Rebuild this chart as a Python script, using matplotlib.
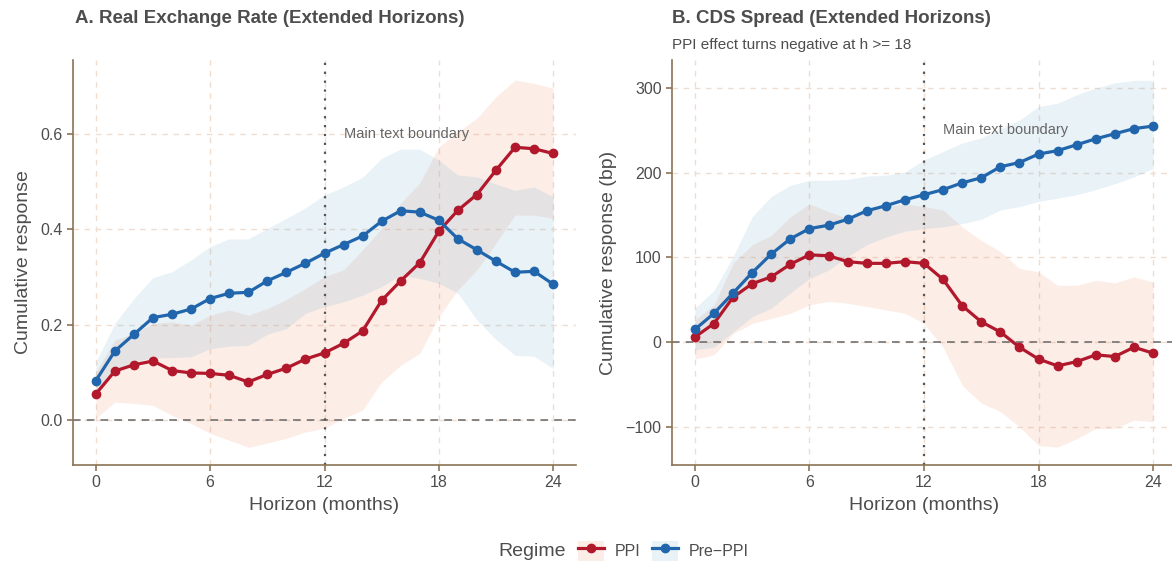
import numpy as np
import matplotlib.pyplot as plt
from matplotlib.lines import Line2D
from matplotlib.patches import Patch

plt.rcParams['font.family'] = ['Liberation Sans', 'DejaVu Sans']

# horizons (months)
h = np.arange(0, 25)

# Panel A: real exchange rate
rer_ppi = [0.055, 0.103, 0.116, 0.124, 0.104, 0.099, 0.098, 0.094, 0.080, 0.096, 0.109, 0.128, 0.141,
           0.161, 0.187, 0.251, 0.292, 0.330, 0.396, 0.440, 0.473, 0.524, 0.572, 0.569, 0.559]
rer_ppi_lo = [0.004, 0.038, 0.035, 0.031, 0.010, -0.007, -0.028, -0.042, -0.057, -0.048, -0.038, -0.025, -0.017,
              0.004, 0.021, 0.080, 0.115, 0.140, 0.217, 0.273, 0.315, 0.371, 0.430, 0.430, 0.423]
rer_ppi_hi = [0.101, 0.168, 0.182, 0.203, 0.206, 0.199, 0.220, 0.231, 0.220, 0.234, 0.253, 0.276, 0.301,
              0.315, 0.357, 0.402, 0.455, 0.497, 0.573, 0.605, 0.633, 0.678, 0.713, 0.706, 0.696]
rer_pre = [0.083, 0.145, 0.180, 0.215, 0.222, 0.233, 0.255, 0.266, 0.268, 0.292, 0.310, 0.329, 0.350,
           0.368, 0.386, 0.417, 0.439, 0.436, 0.419, 0.380, 0.357, 0.333, 0.310, 0.312, 0.285]
rer_pre_lo = [0.056, 0.101, 0.122, 0.131, 0.131, 0.133, 0.150, 0.155, 0.157, 0.180, 0.192, 0.224, 0.238,
              0.248, 0.262, 0.280, 0.304, 0.297, 0.287, 0.266, 0.210, 0.169, 0.136, 0.134, 0.108]
rer_pre_hi = [0.122, 0.203, 0.255, 0.299, 0.311, 0.336, 0.364, 0.380, 0.380, 0.402, 0.423, 0.445, 0.472,
              0.489, 0.509, 0.549, 0.568, 0.568, 0.545, 0.514, 0.510, 0.495, 0.482, 0.489, 0.468]

# Panel B: CDS spread (bp)
cds_ppi = [6, 22, 53, 69, 77, 92, 103, 102, 95, 93, 93, 95, 93,
           74, 43, 24, 12, -6, -20, -28, -23, -15, -17, -6, -13]
cds_ppi_lo = [-20, -15, 10, 22, 28, 34, 44, 48, 46, 42, 38, 34, 22,
              -6, -51, -72, -82, -100, -122, -124, -114, -102, -102, -92, -94]
cds_ppi_hi = [26, 44, 93, 115, 126, 148, 163, 154, 146, 154, 160, 163, 160,
              156, 136, 120, 107, 87, 83, 67, 67, 73, 70, 77, 71]
cds_pre = [15, 34, 58, 82, 104, 122, 134, 138, 145, 155, 161, 168, 174,
           180, 188, 194, 207, 212, 222, 226, 233, 240, 246, 252, 255]
cds_pre_lo = [-9, -6, 12, 30, 40, 58, 75, 85, 101, 115, 124, 131, 134,
              136, 140, 145, 156, 160, 166, 170, 174, 180, 187, 195, 205]
cds_pre_hi = [40, 61, 101, 148, 172, 185, 191, 191, 192, 196, 197, 201, 215,
              225, 235, 241, 252, 262, 278, 282, 292, 300, 306, 309, 309]

RED = '#B2182B'
BLUE = '#2166AC'
RED_FILL = '#EF8A62'
BLUE_FILL = '#67A9CF'
FILL_ALPHA = 0.15
AXIS_COL = '#8B7355'
GRID_COL = '#EFDDD0'
TXT = '#4D4D4D'

fig = plt.figure(figsize=(11.72, 5.69), dpi=100)
axA = fig.add_axes([73 / 1172, 104 / 569, 503 / 1172, 405 / 569])
axB = fig.add_axes([672 / 1172, 104 / 569, 504 / 1172, 405 / 569])


def draw_panel(ax, ppi, ppi_lo, ppi_hi, pre, pre_lo, pre_hi, yticks, ylim, label_y):
    ax.fill_between(h, ppi_lo, ppi_hi, color=RED_FILL, alpha=FILL_ALPHA, lw=0, zorder=1)
    ax.fill_between(h, pre_lo, pre_hi, color=BLUE_FILL, alpha=FILL_ALPHA, lw=0, zorder=1)
    ax.axhline(0, color='#666666', lw=1.1, ls=(0, (5, 4)), zorder=2)
    ax.axvline(12, color='#555555', lw=1.6, ls=(0, (1, 3)), zorder=2)
    ax.text(13, label_y, 'Main text boundary', color='#666666', fontsize=10.5,
            ha='left', va='center', zorder=3)
    ax.plot(h, ppi, color=RED, lw=2.3, marker='o', ms=6, zorder=4)
    ax.plot(h, pre, color=BLUE, lw=2.3, marker='o', ms=6, zorder=4)

    ax.set_xlim(-1.2, 25.2)
    ax.set_ylim(*ylim)
    ax.set_xticks([0, 6, 12, 18, 24])
    ax.set_yticks(yticks)
    ax.grid(True, color=GRID_COL, ls=(0, (4, 4)), lw=1.0, zorder=0)
    ax.set_axisbelow(True)
    for s in ['top', 'right']:
        ax.spines[s].set_visible(False)
    for s in ['left', 'bottom']:
        ax.spines[s].set_color(AXIS_COL)
        ax.spines[s].set_linewidth(1.2)
    ax.tick_params(colors=AXIS_COL, length=4, width=1.2, labelsize=11.5, labelcolor=TXT)
    ax.set_xlabel('Horizon (months)', fontsize=14, color=TXT, labelpad=5)


draw_panel(axA, rer_ppi, rer_ppi_lo, rer_ppi_hi, rer_pre, rer_pre_lo, rer_pre_hi,
           [0.0, 0.2, 0.4, 0.6], (-0.094, 0.755), 0.6)
axA.set_yticklabels(['0.0', '0.2', '0.4', '0.6'])
axA.set_ylabel('Cumulative response', fontsize=14, color=TXT, labelpad=6)

draw_panel(axB, cds_ppi, cds_ppi_lo, cds_ppi_hi, cds_pre, cds_pre_lo, cds_pre_hi,
           [-100, 0, 100, 200, 300], (-145, 333), 250)
axB.set_yticklabels(['\u2212100', '0', '100', '200', '300'])
axB.set_ylabel('Cumulative response (bp)', fontsize=14, color=TXT, labelpad=6)

# titles
fig.text(75 / 1172, 1 - 23 / 569, 'A. Real Exchange Rate (Extended Horizons)',
         fontsize=13.5, fontweight='bold', color=TXT, va='baseline')
fig.text(672 / 1172, 1 - 23 / 569, 'B. CDS Spread (Extended Horizons)',
         fontsize=13.5, fontweight='bold', color=TXT, va='baseline')
fig.text(672 / 1172, 1 - 49 / 569, 'PPI effect turns negative at h >= 18',
         fontsize=11, color=TXT, va='baseline')

# legend
fig.text(566 / 1172, 1 - 551 / 569, 'Regime', fontsize=14, color=TXT, ha='right', va='center')
handles = [
    (Patch(facecolor=RED_FILL, alpha=FILL_ALPHA, lw=0),
     Line2D([], [], color=RED, lw=2.3, marker='o', ms=6)),
    (Patch(facecolor=BLUE_FILL, alpha=FILL_ALPHA, lw=0),
     Line2D([], [], color=BLUE, lw=2.3, marker='o', ms=6)),
]
leg = fig.legend(handles, ['PPI', 'Pre\u2212PPI'], loc='center left',
                 bbox_to_anchor=(564 / 1172, 1 - 551 / 569), ncol=2, frameon=False,
                 fontsize=11.5, handlelength=1.6, handleheight=1.6,
                 handletextpad=0.7, columnspacing=0.7)
for t in leg.get_texts():
    t.set_color(TXT)

fig.savefig('out.png', dpi=100)
